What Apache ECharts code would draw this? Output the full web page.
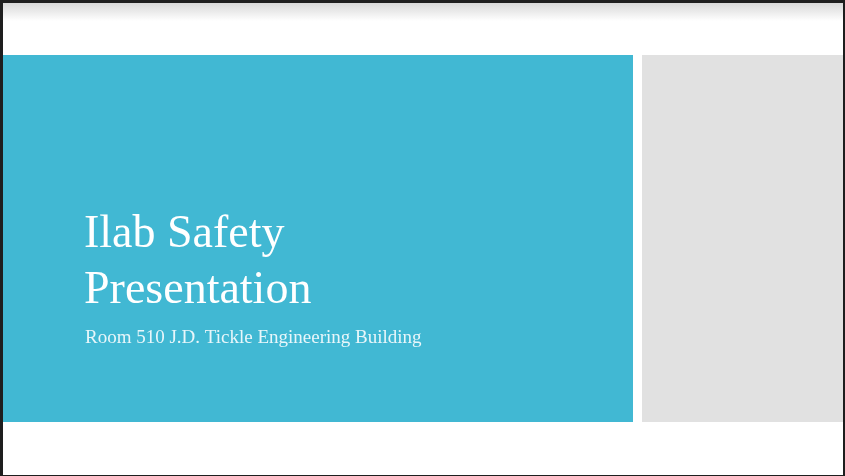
<!DOCTYPE html>
<html lang="en">
<head>
  <meta charset="UTF-8">
  <title>Ilab Safety Presentation</title>
  <script src="https://cdn.jsdelivr.net/npm/echarts/dist/echarts.min.js"></script>
  <style>
    body { margin: 0; background: #1e1e1e; }
    #main { width: 845px; height: 476px; }
  </style>
</head>
<body>
  <div id="main"></div>
  <script>
    // slide texts
    var titleLines = ['Ilab Safety', 'Presentation'];
    var subtitle = ['Room 510 J.D. Tickle Engineering Building'];

    var myChart = echarts.init(document.getElementById('main'));

    var graphics = [
      // slide page with dark frame around it
      { type: 'rect', shape: { x: 3, y: 3, width: 840, height: 472 }, style: { fill: '#ffffff' } },
      { type: 'rect', shape: { x: 3, y: 3, width: 840, height: 18 },
        style: { fill: { type: 'linear', x: 0, y: 0, x2: 0, y2: 1, colorStops: [
          { offset: 0, color: '#d8d8d8' }, { offset: 1, color: '#ffffff' }
        ] } } },
      { type: 'rect', shape: { x: 3, y: 55, width: 630, height: 367 }, style: { fill: '#41b8d3' } },
      { type: 'rect', shape: { x: 642, y: 55, width: 201, height: 367 }, style: { fill: '#e1e1e1' } }
    ];

    titleLines.forEach(function (t, i) {
      graphics.push({
        type: 'text', left: 84, top: 212 + i * 56,
        style: { text: t, fill: '#ffffff', font: '46px "Liberation Serif", "DejaVu Serif", serif' }
      });
    });
    subtitle.forEach(function (t) {
      graphics.push({
        type: 'text', left: 85, top: 329,
        style: { text: t, fill: '#e8f6fa', font: '19px "Liberation Serif", "DejaVu Serif", serif' }
      });
    });

    myChart.setOption({
      backgroundColor: '#1e1e1e',
      animation: false,
      graphic: graphics
    });
  </script>
</body>
</html>
